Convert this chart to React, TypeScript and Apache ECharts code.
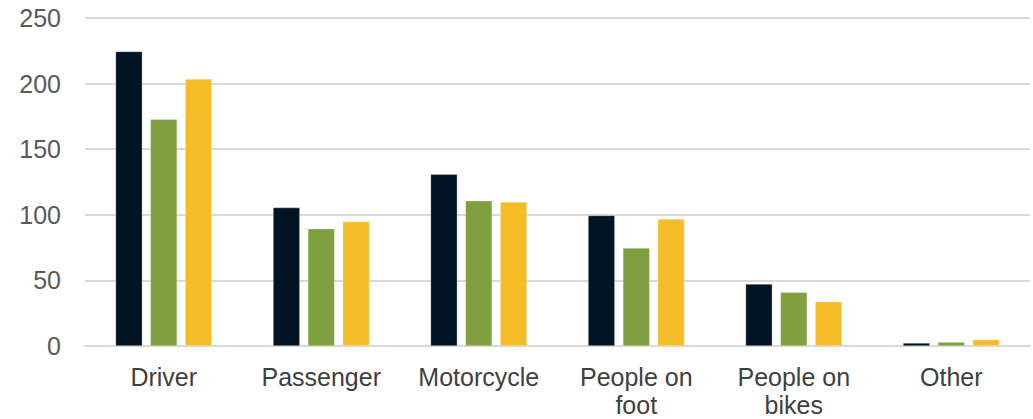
import React, { useEffect, useRef } from "react";
import * as echarts from "echarts";

const categories = ["Driver", "Passenger", "Motorcycle", "People on\nfoot", "People on\nbikes", "Other"];
const seriesA = [224.5, 105.5, 131, 99.5, 47.3, 2.3];
const seriesB = [172.8, 89.4, 110.7, 74.7, 40.9, 3];
const seriesC = [203.5, 94.8, 109.8, 96.8, 33.8, 4.8];
const colors = ["#001423", "#80A03F", "#F4BC27"];

export default function App() {
  const ref = useRef<HTMLDivElement>(null);
  useEffect(() => {
    const chart = echarts.init(ref.current!, null, { renderer: "svg" });
    const mk = (name: string, data: number[], color: string) => ({
      name,
      type: "bar",
      data,
      barWidth: "17%",
      barGap: "30%",
      itemStyle: { color, borderColor: "rgba(255,255,255,0.6)", borderWidth: 0.5 },
    });
    chart.setOption({
      animation: false,
      grid: { left: 85, right: 3, top: 18, bottom: 73, containLabel: false },
      xAxis: {
        type: "category",
        data: categories,
        axisLine: { show: true, lineStyle: { color: "#d9d9d9", width: 2 } },
        axisTick: { show: false },
        axisLabel: {
          color: "#404040",
          fontSize: 25,
          fontFamily: "Liberation Sans, Arial, sans-serif",
          margin: 17,
          lineHeight: 28,
          interval: 0,
        },
      },
      yAxis: {
        type: "value",
        min: 0,
        max: 250,
        interval: 50,
        axisLine: { show: false },
        axisTick: { show: false },
        splitLine: { lineStyle: { color: "#d9d9d9", width: 2 } },
        axisLabel: {
          color: "#595959",
          fontSize: 25,
          fontFamily: "Liberation Sans, Arial, sans-serif",
          margin: 24,
        },
      },
      series: [mk("A", seriesA, colors[0]), mk("B", seriesB, colors[1]), mk("C", seriesC, colors[2])],
    });
    return () => chart.dispose();
  }, []);
  return (
    <div
      ref={ref}
      style={{ position: "fixed", left: 0, top: 0, width: 1033, height: 419, background: "#fff" }}
    />
  );
}
